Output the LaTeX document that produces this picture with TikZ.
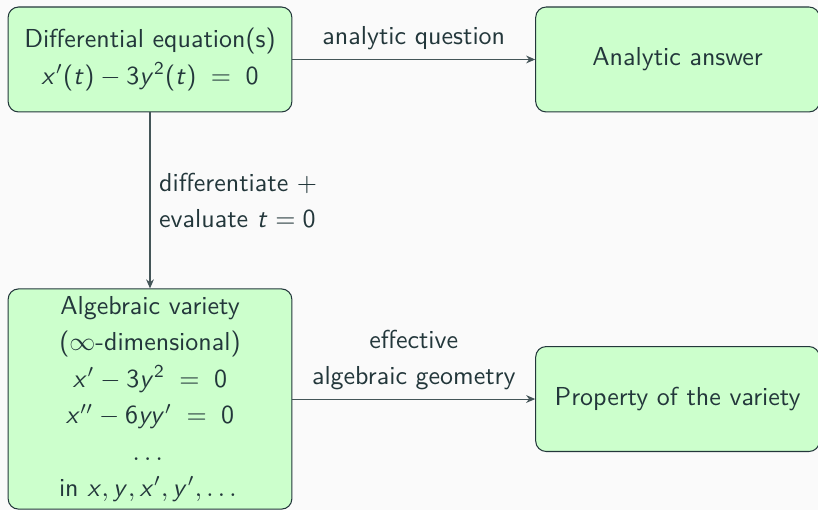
\documentclass[tikz,border=0pt]{standalone}
\usepackage{amsmath,amssymb}
\usepackage{tikz}
\usetikzlibrary{positioning,arrows.meta}
\usepackage{xcolor}
\definecolor{darkteal}{HTML}{23373B}
\definecolor{paper}{HTML}{FAFAFA}
% sans serif math for the letters and digits
\SetSymbolFont{operators}{normal}{OT1}{cmss}{m}{n}
\DeclareSymbolFont{sfletters}{OT1}{cmss}{m}{sl}
\DeclareMathSymbol{x}{\mathalpha}{sfletters}{`x}
\DeclareMathSymbol{y}{\mathalpha}{sfletters}{`y}
\DeclareMathSymbol{t}{\mathalpha}{sfletters}{`t}

\begin{document}
\begin{tikzpicture}[
    box/.style={rectangle, draw=darkteal, rounded corners=4pt, minimum width=3.84cm, minimum height=1.42cm, fill=green!20, align=center, text=darkteal, font=\sffamily\fontsize{10}{14}\selectfont},
    arrow/.style={-{Stealth[length=3.5pt, width=3pt]}, draw=darkteal!85},
    lbl/.style={text=darkteal, font=\sffamily\fontsize{10}{14}\selectfont}
]
% page and background
\useasboundingbox (0, 0) rectangle (11.07, -6.90);
\fill[paper] (0, 0) rectangle (11.07, -6.90);

\node[box] (diffeq) at (2.03, -0.805) {Differential equation(s)\\$x'(t) - 3y^2(t) \;=\; 0$};
\node[box] (answer) at (9.17, -0.805) {Analytic answer};
\node[box, minimum height=2.98cm, inner sep=2pt] (variety) at (2.03, -5.40) {Algebraic variety\\($\infty$-dimensional)\\$x' - 3y^2 \;=\; 0$\\$x'' - 6yy' \;=\; 0$\\$\dots$\\in $x, y, x', y', \dots$};
\node[box] (property) at (9.17, -5.40) {Property of the variety};

\draw[arrow] (diffeq) -- (answer) node[midway, above, lbl] {analytic question};
\draw[arrow] (diffeq) -- (variety) node[midway, right, lbl, align=left] {differentiate $+$\\evaluate $t = 0$};
\draw[arrow] (variety) -- (property) node[midway, above, lbl, align=center] {effective\\algebraic geometry};
\end{tikzpicture}
\end{document}
